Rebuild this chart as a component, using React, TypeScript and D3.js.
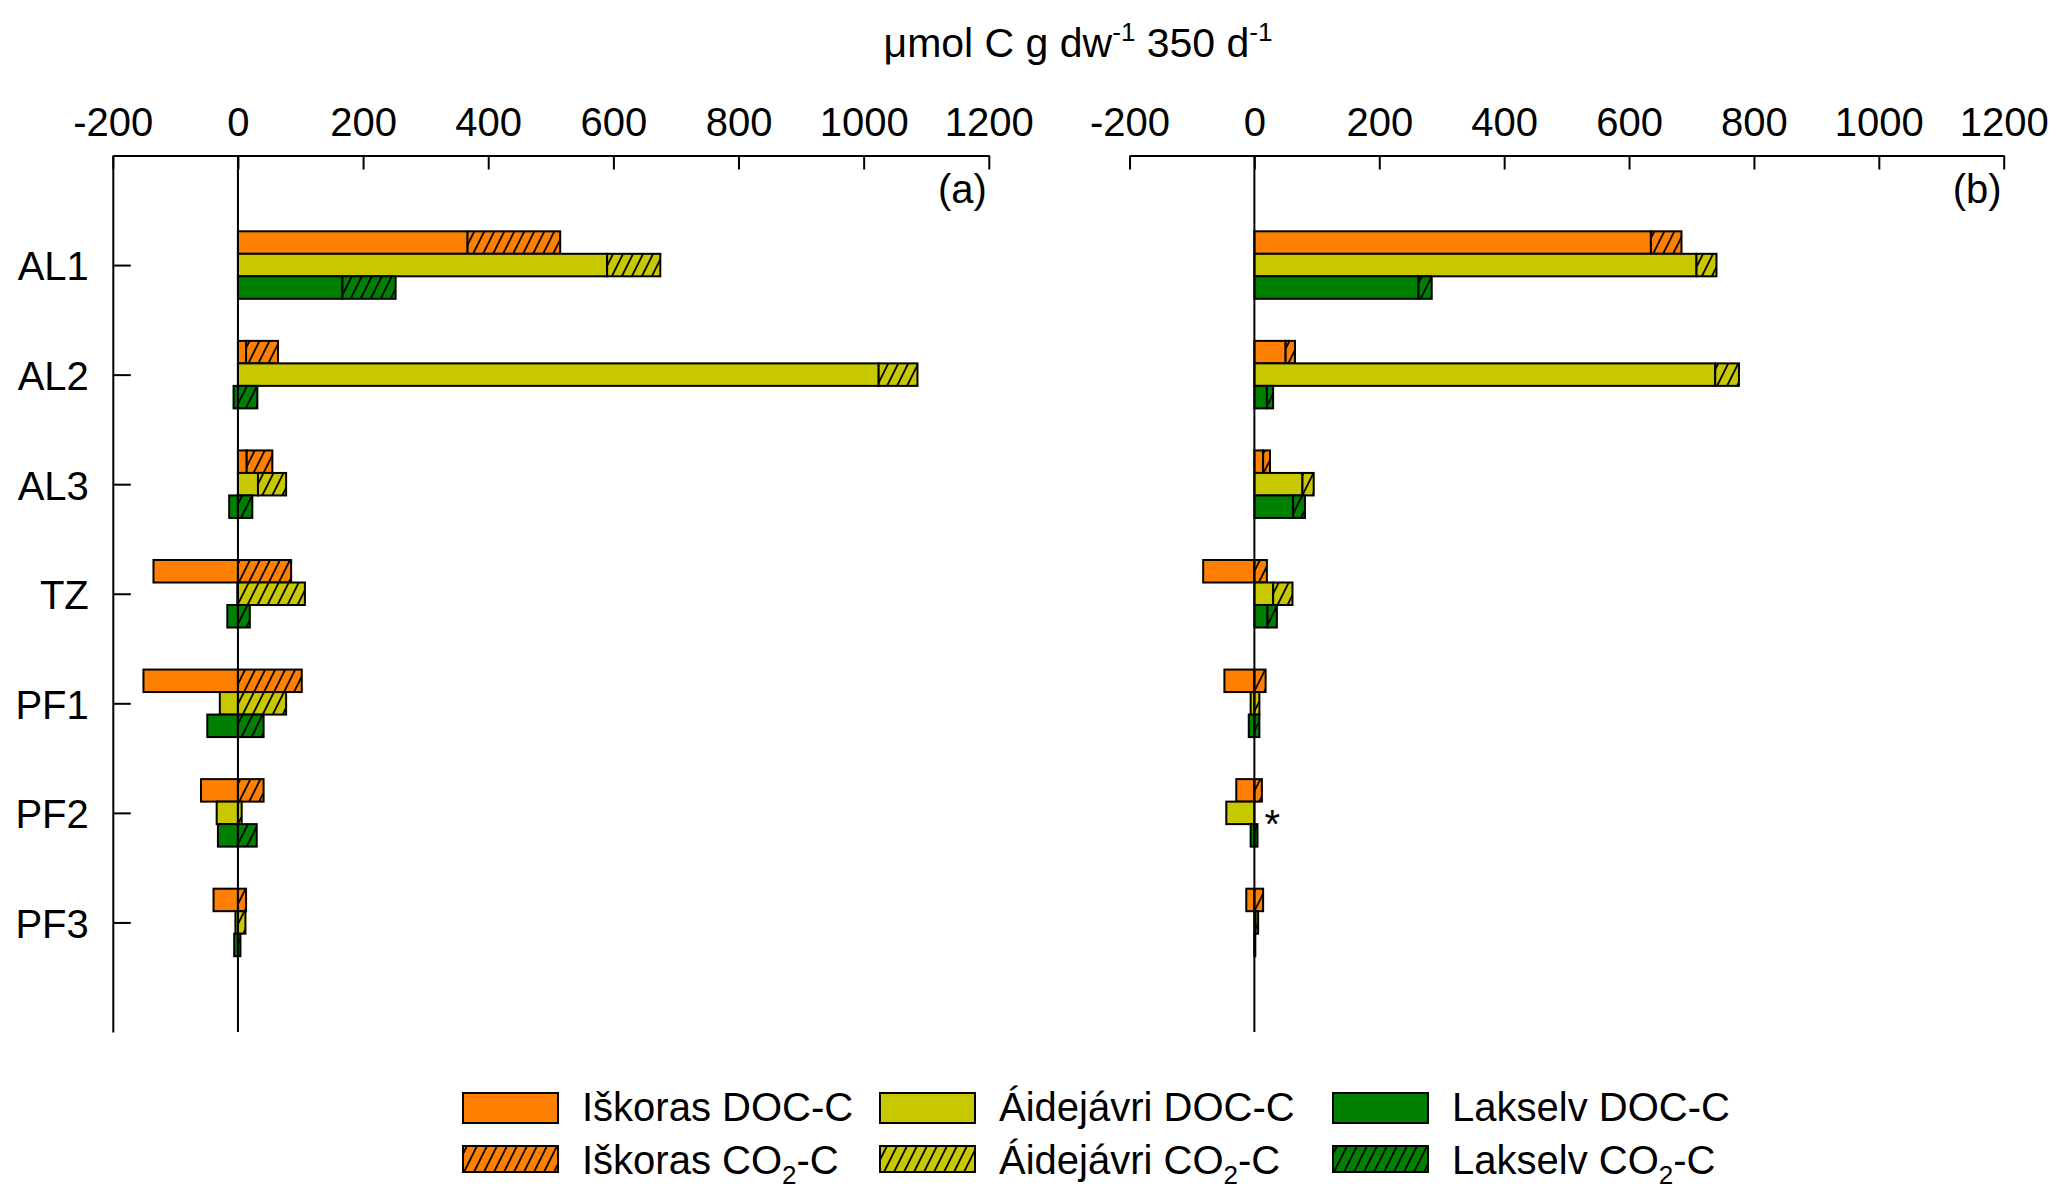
import React, { useEffect, useRef } from "react";
import * as d3 from "d3";

const sites = ["AL1", "AL2", "AL3", "TZ", "PF1", "PF2", "PF3"];
const locations = ["Iškoras", "Áidejávri", "Lakselv"];
const colors = ["#ff8000", "#c8c800", "#008000"];
const xTicks = [-200, 0, 200, 400, 600, 800, 1000, 1200];

// panel (a)
const iskorasDocA = [367, 13, 14, -135, -151, -59, -39];
const iskorasCo2A = [148, 51, 41, 85, 102, 41, 13];
const aidejavriDocA = [590, 1024, 32, -1, -29, -34, -4];
const aidejavriCo2A = [85, 62, 45, 107, 77, 6, 12];
const lakselvDocA = [167, -7, -14, -17, -49, -32, -6];
const lakselvCo2A = [85, 31, 23, 19, 41, 30, 4];

// panel (b)
const iskorasDocB = [635, 50, 14, -82, -48, -29, -13];
const iskorasCo2B = [49, 15, 11, 20, 18, 12, 14];
const aidejavriDocB = [708, 738, 77, 30, -6, -45, 2];
const aidejavriCo2B = [32, 38, 18, 31, 8, 0, 4];
const lakselvDocB = [263, 20, 62, 21, -9, -6, 0.5];
const lakselvCo2B = [21, 10, 19, 15, 8, 5, 1];

const FONT = "'Liberation Sans', Arial, sans-serif";
const top = 155.5;
const bottom = 1032;

function drawPanel(svg: any, data: { doc: number[]; co2: number[] }[], x0: number, x1: number, label: string, showY: boolean) {
  const x = d3.scaleLinear().domain([-200, 1200]).range([x0, x1]);
  const y = d3.scaleLinear().domain([0, 8]).range([top, bottom]);
  const barH = 22.5;

  const g = svg.append("g");

  // bars: DOC solid, CO2 hatched and stacked on the positive side
  sites.forEach((site, i) => {
    data.forEach((s, j) => {
      const d = s.doc[i];
      const c = s.co2[i];
      const yc = y(i + 1) + (j - 1) * barH;
      const docStart = Math.min(d, 0), docEnd = Math.max(d, 0);
      const co2Start = Math.max(d, 0);
      g.append("rect")
        .attr("x", x(docStart))
        .attr("y", yc - barH / 2)
        .attr("width", x(docEnd) - x(docStart))
        .attr("height", barH)
        .attr("fill", colors[j])
        .attr("stroke", "#000")
        .attr("stroke-width", 2);
      g.append("rect")
        .attr("x", x(co2Start))
        .attr("y", yc - barH / 2)
        .attr("width", x(co2Start + c) - x(co2Start))
        .attr("height", barH)
        .attr("fill", "url(#hatch" + j + ")")
        .attr("stroke", "#000")
        .attr("stroke-width", 2);
    });
  });

  // zero line
  g.append("line")
    .attr("x1", x(0)).attr("x2", x(0))
    .attr("y1", top).attr("y2", bottom)
    .attr("stroke", "#000")
    .attr("stroke-width", 2);

  const xAxis = d3.axisTop(x)
    .tickValues(xTicks)
    .tickFormat((v: any) => String(v))
    .tickSizeInner(-14)
    .tickSizeOuter(0)
    .tickPadding(20);

  const gx = g.append("g")
    .attr("transform", "translate(0," + top + ")")
    .call(xAxis);
  gx.selectAll("path, line").attr("stroke", "#000").attr("stroke-width", 2);
  gx.selectAll("text").attr("font-size", 40).attr("font-family", FONT).attr("fill", "#000");

  if (showY) {
    const yAxis = d3.axisLeft(y)
      .tickValues([1, 2, 3, 4, 5, 6, 7])
      .tickFormat((v: any) => sites[v - 1])
      .tickSizeInner(-18)
      .tickSizeOuter(0)
      .tickPadding(24);
    const gy = g.append("g")
      .attr("transform", "translate(" + x0 + ",0)")
      .call(yAxis);
    gy.selectAll("path, line").attr("stroke", "#000").attr("stroke-width", 2);
    gy.selectAll("text").attr("font-size", 40).attr("font-family", FONT).attr("fill", "#000").attr("dy", "0.37em");
  }

  g.append("text")
    .attr("x", x(1200) - 2)
    .attr("y", 203)
    .attr("text-anchor", "end")
    .attr("font-size", 40)
    .attr("font-family", FONT)
    .text(label);

  return x;
}

function App() {
  const ref = useRef<SVGSVGElement>(null);

  useEffect(() => {
    const svg = d3.select(ref.current);
    svg.selectAll("*").remove();

    const defs = svg.append("defs");
    colors.forEach((col, j) => {
      const p = defs.append("pattern")
        .attr("id", "hatch" + j)
        .attr("patternUnits", "userSpaceOnUse")
        .attr("width", 10)
        .attr("height", 20);
      p.append("rect").attr("width", 10).attr("height", 20).attr("fill", col);
      p.append("path")
        .attr("d", "M-5,30 L15,-10 M-15,30 L5,-10 M5,30 L25,-10")
        .attr("stroke", "#000")
        .attr("stroke-width", 1.8);
    });

    const panelA = [
      { doc: iskorasDocA, co2: iskorasCo2A },
      { doc: aidejavriDocA, co2: aidejavriCo2A },
      { doc: lakselvDocA, co2: lakselvCo2A },
    ];
    const panelB = [
      { doc: iskorasDocB, co2: iskorasCo2B },
      { doc: aidejavriDocB, co2: aidejavriCo2B },
      { doc: lakselvDocB, co2: lakselvCo2B },
    ];

    drawPanel(svg, panelA, 112.8, 988.8, "(a)", true);
    const xb = drawPanel(svg, panelB, 1129.5, 2003.7, "(b)", false);

    // asterisk for Áidejávri PF2 in panel b
    svg.append("text")
      .attr("x", xb(0) + 10)
      .attr("y", 838)
      .attr("font-size", 40)
      .attr("font-family", FONT)
      .text("*");

    // title
    const title = svg.append("text")
      .attr("x", 1078)
      .attr("y", 57)
      .attr("text-anchor", "middle")
      .attr("font-size", 41)
      .attr("font-family", FONT);
    title.append("tspan").text("μmol C g dw");
    title.append("tspan").attr("font-size", 26).attr("dy", -16).text("-1");
    title.append("tspan").attr("dy", 16).text(" 350 d");
    title.append("tspan").attr("font-size", 26).attr("dy", -16).text("-1");

    // legend
    const swatchX = [463, 880, 1333];
    const textX = [582, 999, 1452];
    const rowY = [1107, 1160];
    locations.forEach((loc, j) => {
      [0, 1].forEach((r) => {
        svg.append("rect")
          .attr("x", swatchX[j])
          .attr("y", rowY[r] - 14)
          .attr("width", 95)
          .attr("height", r === 0 ? 30 : 26)
          .attr("fill", r === 0 ? colors[j] : "url(#hatch" + j + ")")
          .attr("stroke", "#000")
          .attr("stroke-width", 2);
        const t = svg.append("text")
          .attr("x", textX[j])
          .attr("y", rowY[r] + 14)
          .attr("font-size", 40)
          .attr("font-family", FONT);
        if (r === 0) {
          t.text(loc + " DOC-C");
        } else {
          t.append("tspan").text(loc + " CO");
          t.append("tspan").attr("font-size", 26).attr("dy", 10).text("2");
          t.append("tspan").attr("dy", -10).text("-C");
        }
      });
    });
  }, []);

  return (
    <svg
      ref={ref}
      width={2067}
      height={1199}
      style={{ position: "absolute", left: 0, top: 0, background: "#fff", display: "block" }}
    />
  );
}

export default App;
